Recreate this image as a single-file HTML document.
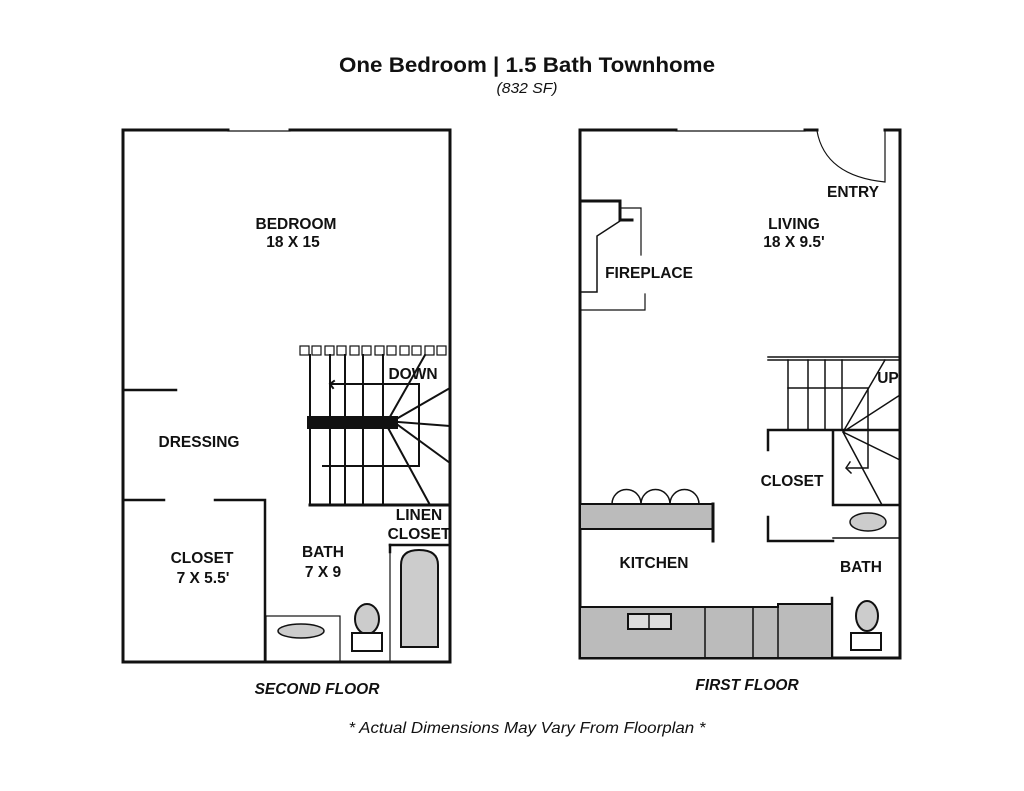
<!DOCTYPE html>
<html><head><meta charset="utf-8"><style>
html,body{margin:0;padding:0;background:#fff;}
svg{display:block;}
text{font-family:"Liberation Sans",sans-serif;font-weight:bold;fill:#111;}
</style></head><body>
<svg width="1024" height="791" viewBox="0 0 1024 791" xmlns="http://www.w3.org/2000/svg">
<rect width="1024" height="791" fill="#fff"/>
<text x="527" y="72" font-size="21" text-anchor="middle" textLength="376" lengthAdjust="spacingAndGlyphs">One Bedroom | 1.5 Bath Townhome</text>
<text x="527" y="93" font-size="15" font-style="italic" text-anchor="middle" style="font-weight:normal" textLength="61" lengthAdjust="spacingAndGlyphs">(832 SF)</text>

<g stroke="#111" fill="none" stroke-linecap="square">
<!-- LEFT PLAN -->
<path d="M123 662 V130 H228" stroke-width="3"/>
<path d="M228 131 H290" stroke-width="1.2"/>
<path d="M290 130 H450 V662 H123" stroke-width="3"/>
<path d="M123 390 H176" stroke-width="2.5"/>
<path d="M123 500 H164 M215 500 H265 V662" stroke-width="2.5"/>
<rect x="266" y="616" width="74" height="46" stroke-width="1.2"/>
<ellipse cx="301" cy="631" rx="23" ry="7" fill="#ccc" stroke-width="1.5"/>
<ellipse cx="367" cy="619" rx="12" ry="15" fill="#ccc" stroke-width="2"/>
<rect x="352" y="633" width="30" height="18" fill="#fff" stroke-width="2"/>
<path d="M390 662 V545 H450" stroke-width="1.2"/>
<path d="M390 545 V552" stroke-width="2.5"/>
<path d="M390 545 H450" stroke-width="2.5"/>
<path d="M401 647 V565 Q401 550 419 550 Q438 550 438 565 V647 Z" fill="#ccc" stroke-width="2"/>
<!-- stairs -->
<g stroke-width="1.2">
<rect x="300" y="346" width="9" height="9"/><rect x="312" y="346" width="9" height="9"/><rect x="325" y="346" width="9" height="9"/><rect x="337" y="346" width="9" height="9"/><rect x="350" y="346" width="9" height="9"/><rect x="362" y="346" width="9" height="9"/><rect x="375" y="346" width="9" height="9"/><rect x="387" y="346" width="9" height="9"/><rect x="400" y="346" width="9" height="9"/><rect x="412" y="346" width="9" height="9"/><rect x="425" y="346" width="9" height="9"/><rect x="437" y="346" width="9" height="9"/>
</g>
<g stroke-width="2">
<path d="M310 355 V505 M330 355 V505 M345 355 V505 M363 355 V505 M383 355 V505"/>
<path d="M330 384 H419 V466 H323"/>
<path d="M330 384 l4 -3 M330 384 l3 4"/>
<path d="M387 422 L425 355 M398 418 L450 388 M398 422 L450 426 M398 425 L450 463 M387 426 L430 505"/>
</g>
<path d="M310 505 H450" stroke-width="3"/>
<rect x="307" y="416" width="91" height="13" fill="#111" stroke="none"/>

<!-- RIGHT PLAN -->
<path d="M580 658 V130 H676" stroke-width="3"/>
<path d="M676 131 H805" stroke-width="1.2"/>
<path d="M805 130 H817" stroke-width="3"/>
<path d="M817 131 Q825 176 885 182 V130 H900 V658 H580" stroke-width="1.2"/>
<path d="M885 130 H900 V658" stroke-width="3"/>
<path d="M580 658 H900" stroke-width="3"/>
<!-- fireplace -->
<path d="M580 201 H620 V220 H632" stroke-width="3"/>
<path d="M620 221 L597 236 V292 H580" stroke-width="1.5"/>
<path d="M622 208 H641 V255 M580 310 H645 V294" stroke-width="1.2"/>
<!-- stairs -->
<g stroke-width="1.5">
<path d="M768 360 H900 M768 357 H900"/>
<path d="M788 360 V430 M808 360 V430 M825 360 V430 M842 360 V430"/>
<path d="M788 388 H868 V468 H848"/>
<path d="M850 462 l-4 6 l5 5"/>
<path d="M843 432 L885 360 M843 432 L900 395 M843 432 L900 460 M843 432 L882 505"/>
<path d="M833 538 H900"/>
</g>
<path d="M768 430 H900 M768 430 V450 M768 517 V541 H833 M833 430 V505 H900" stroke-width="2.5"/>
<ellipse cx="868" cy="522" rx="18" ry="9" fill="#ccc" stroke-width="1.5"/>
<path d="M832 598 V658" stroke-width="2.5"/>
<ellipse cx="867" cy="616" rx="11" ry="15" fill="#ccc" stroke-width="2"/>
<rect x="851" y="633" width="30" height="17" fill="#fff" stroke-width="2"/>
<!-- kitchen -->
<path d="M612 504 a14 14 0 0 1 29 0 a14 14 0 0 1 29 0 a14 14 0 0 1 29 0" stroke-width="1.5"/>
<rect x="580" y="504" width="133" height="25" fill="#bbb" stroke-width="2"/>
<path d="M713 504 V541" stroke-width="3"/>
<path d="M580 607 H778 V604 H832 V658 H580 Z" fill="#bbb" stroke-width="2"/>
<path d="M705 607 V658 M753 607 V658 M778 604 V658" stroke-width="1.5"/>
<rect x="628" y="614" width="43" height="15" fill="#ddd" stroke-width="2"/>
<path d="M649 614 V629" stroke-width="1.5"/>
</g>

<g font-size="15.5">
<text x="296" y="229" text-anchor="middle">BEDROOM</text>
<text x="293" y="247" text-anchor="middle">18 X 15</text>
<text x="199" y="447" text-anchor="middle">DRESSING</text>
<text x="202" y="563" text-anchor="middle">CLOSET</text>
<text x="203" y="583" text-anchor="middle">7 X 5.5'</text>
<text x="323" y="557" text-anchor="middle">BATH</text>
<text x="323" y="577" text-anchor="middle">7 X 9</text>
<text x="413" y="379" text-anchor="middle">DOWN</text>
<text x="419" y="520" text-anchor="middle">LINEN</text>
<text x="419" y="539" text-anchor="middle">CLOSET</text>
<text x="853" y="197" text-anchor="middle">ENTRY</text>
<text x="794" y="229" text-anchor="middle">LIVING</text>
<text x="794" y="247" text-anchor="middle">18 X 9.5'</text>
<text x="649" y="278" text-anchor="middle">FIREPLACE</text>
<text x="888" y="383" text-anchor="middle">UP</text>
<text x="792" y="486" text-anchor="middle">CLOSET</text>
<text x="654" y="568" text-anchor="middle">KITCHEN</text>
<text x="861" y="572" text-anchor="middle">BATH</text>
</g>
<text x="317" y="694" font-size="15.5" font-style="italic" text-anchor="middle">SECOND FLOOR</text>
<text x="747" y="690" font-size="15.5" font-style="italic" text-anchor="middle">FIRST FLOOR</text>
<text x="527" y="733" font-size="16" font-style="italic" text-anchor="middle" style="font-weight:normal" textLength="357" lengthAdjust="spacingAndGlyphs">* Actual Dimensions May Vary From Floorplan *</text>
</svg>
</body></html>
